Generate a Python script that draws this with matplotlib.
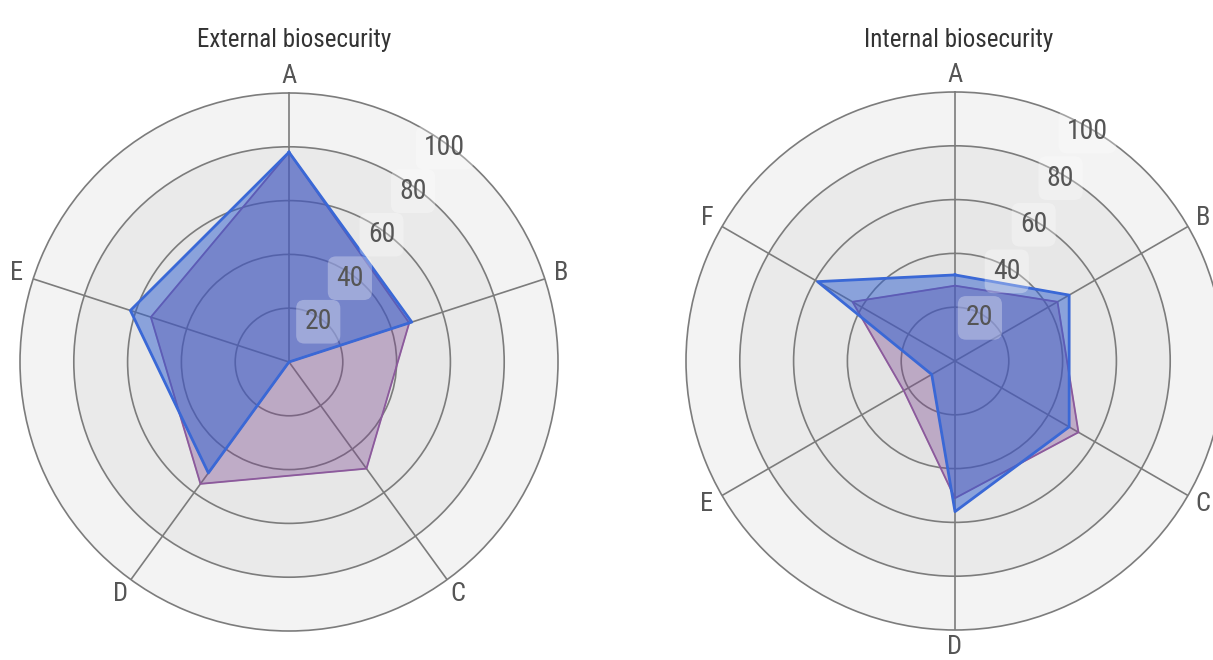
import numpy as np
import matplotlib
matplotlib.use("Agg")
from matplotlib import pyplot as plt
from matplotlib import font_manager

# pick a narrow face if one is installed, the reference uses a condensed font
installed = {f.name for f in font_manager.fontManager.ttflist}
narrow = [f for f in ['Liberation Sans Narrow', 'Roboto Condensed', 'Open Sans Condensed',
                      'DejaVu Sans Condensed', 'Noto Sans Condensed'] if f in installed]
plt.rcParams['font.family'] = narrow + ['DejaVu Sans']
if not narrow:
    plt.rcParams['font.stretch'] = 'condensed'

# values (0-100 scale)
ext_labels = ['A', 'B', 'C', 'D', 'E']
ext_pink = [78, 47, 49, 56, 54]
ext_blue = [78, 48, 0, 51, 62]

int_labels = ['A', 'B', 'C', 'D', 'E', 'F']
int_pink = [28, 44, 53, 51, 22, 44]
int_blue = [32, 49, 49, 56, 10, 59]

ring_values = [20, 40, 60, 80, 100]
band_colors = ['#e2e2e2', '#e4e4e4', '#e7e7e7', '#eaeaea', '#f3f3f3']

pink_color = '#7a4490'
pink_edge = '#8c5a9c'
blue_color = '#2f5fd0'
blue_edge = '#3a68d6'


def radar(ax, labels, pink, blue):
    n = len(labels)
    angles = np.linspace(0, 2 * np.pi, n, endpoint=False)
    ax.set_theta_offset(np.pi / 2)
    ax.set_theta_direction(-1)
    ax.set_ylim(0, 100)

    # shaded rings
    lo = 0
    for hi, c in zip(ring_values, band_colors):
        ax.bar(0, hi - lo, width=2 * np.pi, bottom=lo, color=c, edgecolor='none', zorder=0, align='edge')
        lo = hi

    ax.set_yticks(ring_values[:-1])
    ax.set_yticklabels([])
    ax.set_xticks(angles)
    ax.set_xticklabels([])
    ax.grid(True, color='#7c7c7c', linewidth=1.2)
    ax.spines['polar'].set_color('#7c7c7c')
    ax.spines['polar'].set_linewidth(1.2)
    ax.set_axisbelow(True)

    for a, lab in zip(angles, labels):
        ax.text(a, 106.5, lab, ha='center', va='center', fontsize=19, color='#555555', clip_on=False)

    ang = np.append(angles, angles[0])
    p = np.append(pink, pink[0])
    b = np.append(blue, blue[0])
    ax.fill(ang, p, color=pink_color, alpha=0.36, zorder=3)
    ax.plot(ang, p, color=pink_edge, linewidth=1.3, zorder=3)
    ax.fill(ang, b, color=blue_color, alpha=0.5, zorder=4)
    ax.plot(ang, b, color=blue_edge, linewidth=2, zorder=4)

    # radial labels sit halfway into the first sector
    label_angle = angles[1] / 2
    for v in ring_values:
        ax.text(label_angle, v - 1.5, str(v), ha='center', va='center', fontsize=20, color='#555555', zorder=5,
                bbox=dict(boxstyle='round,pad=0.3', facecolor='white', edgecolor='none', alpha=0.3))


fig = plt.figure(figsize=(12.13, 6.6), dpi=100)
W, H = 1213, 660
R = 269

ax1 = fig.add_axes([(289 - R) / W, (H - 362 - R) / H, 2 * R / W, 2 * R / H], projection='polar')
ax2 = fig.add_axes([(955 - R) / W, (H - 361 - R) / H, 2 * R / W, 2 * R / H], projection='polar')

radar(ax1, ext_labels, ext_pink, ext_blue)
radar(ax2, int_labels, int_pink, int_blue)

fig.text(294 / W, 1 - 40 / H, 'External biosecurity', ha='center', va='center', fontsize=18, color='#333333')
fig.text(959 / W, 1 - 40 / H, 'Internal biosecurity', ha='center', va='center', fontsize=18, color='#333333')

fig.savefig('out.png', dpi=100)
